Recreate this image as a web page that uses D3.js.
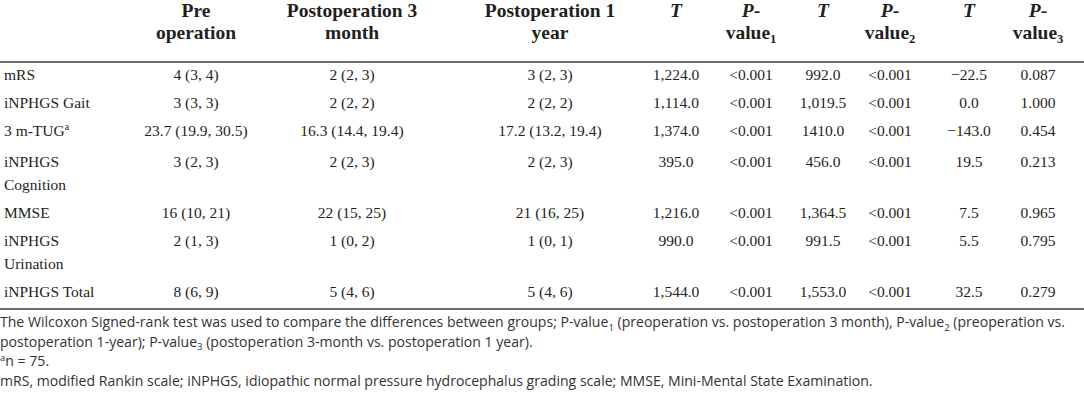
<!DOCTYPE html>
<html>
<head>
<meta charset="utf-8">
<script src="https://cdn.jsdelivr.net/npm/d3@7"></script>
<style>
  html, body { margin: 0; padding: 0; background: #fff; }
  svg { display: block; }
</style>
</head>
<body>
<svg id="chart" width="1084" height="400"></svg>
<script>
// ---------- DATA ----------
const columnKeys = ["label", "pre", "post3m", "post1y", "t1", "p1", "t2", "p2", "t3", "p3"];
// header lines: each part {t: text, i: italic, sub: subscript}
const headerLines = [
  [],
  [[{t:"Pre"}], [{t:"operation"}]],
  [[{t:"Postoperation 3"}], [{t:"month"}]],
  [[{t:"Postoperation 1"}], [{t:"year"}]],
  [[{t:"T", i:true}]],
  [[{t:"P", i:true}, {t:"-"}], [{t:"value"}, {t:"1", sub:true}]],
  [[{t:"T", i:true}]],
  [[{t:"P", i:true}, {t:"-"}], [{t:"value"}, {t:"2", sub:true}]],
  [[{t:"T", i:true}]],
  [[{t:"P", i:true}, {t:"-"}], [{t:"value"}, {t:"3", sub:true}]]
];
const rowLabels = [
  ["mRS"],
  ["iNPHGS Gait"],
  ["3 m-TUG"],
  ["iNPHGS", "Cognition"],
  ["MMSE"],
  ["iNPHGS", "Urination"],
  ["iNPHGS Total"]
];
const rowLabelSup = ["", "", "a", "", "", "", ""];
const preOperation = ["4 (3, 4)", "3 (3, 3)", "23.7 (19.9, 30.5)", "3 (2, 3)", "16 (10, 21)", "2 (1, 3)", "8 (6, 9)"];
const postop3Month = ["2 (2, 3)", "2 (2, 2)", "16.3 (14.4, 19.4)", "2 (2, 3)", "22 (15, 25)", "1 (0, 2)", "5 (4, 6)"];
const postop1Year  = ["3 (2, 3)", "2 (2, 2)", "17.2 (13.2, 19.4)", "2 (2, 3)", "21 (16, 25)", "1 (0, 1)", "5 (4, 6)"];
const tValue1 = ["1,224.0", "1,114.0", "1,374.0", "395.0", "1,216.0", "990.0", "1,544.0"];
const pValue1 = ["<0.001", "<0.001", "<0.001", "<0.001", "<0.001", "<0.001", "<0.001"];
const tValue2 = ["992.0", "1,019.5", "1410.0", "456.0", "1,364.5", "991.5", "1,553.0"];
const pValue2 = ["<0.001", "<0.001", "<0.001", "<0.001", "<0.001", "<0.001", "<0.001"];
const tValue3 = ["\u221222.5", "0.0", "\u2212143.0", "19.5", "7.5", "5.5", "32.5"];
const pValue3 = ["0.087", "1.000", "0.454", "0.213", "0.965", "0.795", "0.279"];
const footnoteLines = [
  [{t:"The Wilcoxon Signed-rank test was used to compare the differences between groups; P-value"},{t:"1",sub:true},{t:" (preoperation vs. postoperation 3 month), P-value"},{t:"2",sub:true},{t:" (preoperation vs."}],
  [{t:"postoperation 1-year); P-value"},{t:"3",sub:true},{t:" (postoperation 3-month vs. postoperation 1 year)."}],
  [{t:"a",sup:true},{t:"n = 75."}],
  [{t:"mRS, modified Rankin scale; iNPHGS, idiopathic normal pressure hydrocephalus grading scale; MMSE, Mini-Mental State Examination."}]
];

// ---------- LAYOUT ----------
const W = 1084;
const serif = "'Liberation Serif', 'Times New Roman', serif";
const sans = "'Open Sans', 'Noto Sans', sans-serif";
const textColor = "#231f20";

const columns = [preOperation, postop3Month, postop1Year, tValue1, pValue1, tValue2, pValue2, tValue3, pValue3];

const x = d3.scaleOrdinal()
  .domain(columnKeys)
  .range([4, 196, 352, 550, 676, 751, 823, 890, 969, 1038]);

const headerTop = 62;     // y of top rule
const rowPad = 5;
const lineH = 23;
const extraFor = i => rowLabelSup[i] ? 3 : 0;
const rowStarts = [];
let acc = 0;
rowLabels.forEach((r, i) => { rowStarts.push(acc); acc += rowPad + r.length * lineH + extraFor(i); });
const tableHeight = acc + 2;
const y = d3.scaleLinear().domain([0, tableHeight]).range([headerTop, headerTop + tableHeight]);

const svg = d3.select("#chart");
svg.append("rect").attr("width", W).attr("height", 400).attr("fill", "#fff");

// ---------- HEADER ----------
const hdr = svg.append("g").attr("font-family", serif).attr("font-weight", "bold")
  .attr("font-size", 19.5).attr("fill", textColor).attr("text-anchor", "middle");
headerLines.forEach((lines, ci) => {
  lines.forEach((parts, li) => {
    const t = hdr.append("text")
      .attr("x", x(columnKeys[ci]))
      .attr("y", 17 + li * 21.5);
    parts.forEach(p => {
      const ts = t.append("tspan").text(p.t);
      if (p.i) ts.attr("font-style", "italic");
      if (p.sub) ts.attr("font-size", 12.5).attr("dy", 4);
    });
  });
});

// rules
const ruleColor = "#6d6e71";
svg.append("line").attr("x1", 0).attr("x2", W)
  .attr("y1", y(0)).attr("y2", y(0)).attr("stroke", ruleColor).attr("stroke-width", 2);
svg.append("line").attr("x1", 0).attr("x2", W)
  .attr("y1", y(tableHeight)).attr("y2", y(tableHeight)).attr("stroke", ruleColor).attr("stroke-width", 2);

// ---------- BODY ----------
const body = svg.append("g").attr("font-family", serif).attr("font-size", 15.5).attr("fill", textColor);
rowLabels.forEach((lines, ri) => {
  const base = rowStarts[ri] + 17.5;
  lines.forEach((ln, li) => {
    const t = body.append("text")
      .attr("x", x("label"))
      .attr("y", y(base + li * lineH))
      .text(ln);
    if (li === 0 && rowLabelSup[ri]) {
      t.append("tspan").attr("font-size", 10).attr("dy", -6).text(rowLabelSup[ri]);
    }
  });
  columns.forEach((col, ci) => {
    body.append("text")
      .attr("x", x(columnKeys[ci + 1]))
      .attr("y", y(base))
      .attr("text-anchor", "middle")
      .text(col[ri]);
  });
});

// ---------- FOOTNOTES ----------
const foot = svg.append("g").attr("font-family", sans).attr("font-size", 14).attr("fill", "#333333");
const footTexts = footnoteLines.map((parts, li) => {
  const t = foot.append("text").attr("x", 0).attr("y", 327 + li * 19.5);
  let cur = 0;
  parts.forEach(p => {
    const shift = p.sub ? 0.25 : (p.sup ? -0.38 : 0);   // in em of the parent line
    const ts = t.append("tspan").text(p.t);
    if (shift !== cur) ts.attr("dy", ((shift - cur) * 14).toFixed(2));
    if (p.sub || p.sup) ts.attr("font-size", "68%");
    cur = shift;
  });
  return t;
});
// fit the footnote size so the first line spans the page width like the original
const len = footTexts[0].node().getComputedTextLength();
const footSize = 14 * 1066 / len;
foot.attr("font-size", footSize);
footTexts.forEach(t => {
  let cur = 0;
  t.selectAll("tspan").each(function () {
    const el = d3.select(this);
    const dy = el.attr("dy");
    if (dy !== null) el.attr("dy", (parseFloat(dy) * footSize / 14).toFixed(2));
  });
});
</script>
</body>
</html>
